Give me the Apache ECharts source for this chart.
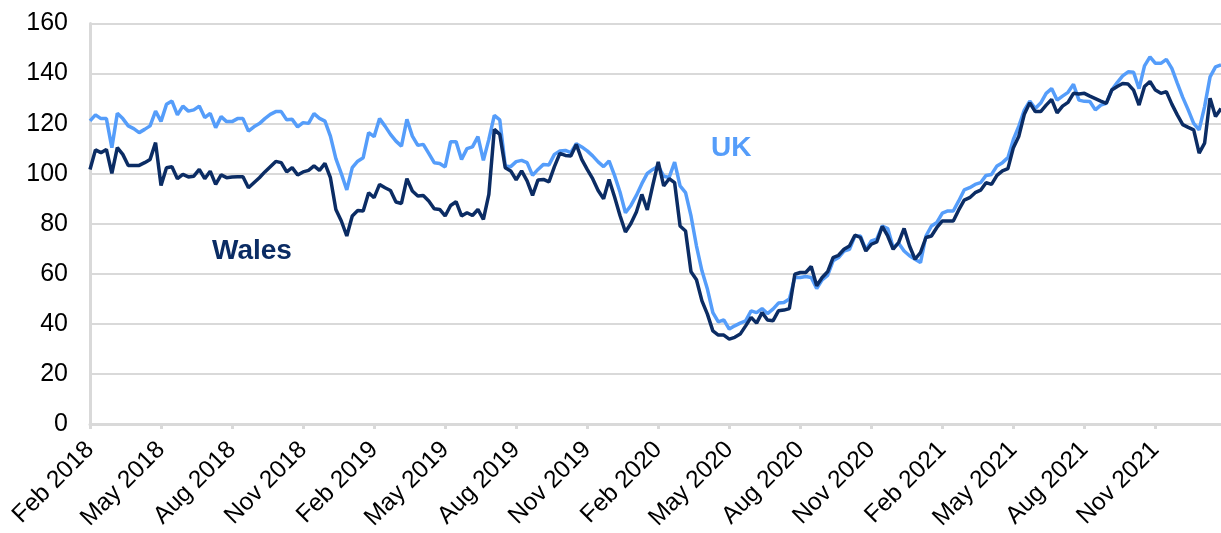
<!DOCTYPE html>
<html>
<head>
<meta charset="utf-8">
<script src="https://cdn.jsdelivr.net/npm/echarts@6/dist/echarts.min.js"></script>
<style>
  html, body { margin: 0; padding: 0; background: #fff; }
  #chart { width: 1221px; height: 533px; }
</style>
</head>
<body>
<div id="chart"></div>
<script>
// weekly index values, Feb 2018 onwards
const tickLabels = ['Feb 2018', 'May 2018', 'Aug 2018', 'Nov 2018', 'Feb 2019', 'May 2019', 'Aug 2019', 'Nov 2019',
  'Feb 2020', 'May 2020', 'Aug 2020', 'Nov 2020', 'Feb 2021', 'May 2021', 'Aug 2021', 'Nov 2021'];
const weeksPerTick = 13;

const ukValues = [
  121.1, 123.5, 122, 122, 110.4, 124.1, 122, 119.1, 118, 116.4, 117.7, 119.1, 125, 120.9, 127.7, 129,
  123.5, 127, 125, 125.5, 127, 122.4, 124.1, 118.4, 122.8, 120.8, 120.8, 122, 122, 117, 118.7, 120,
  122, 123.7, 124.8, 124.8, 121.5, 121.7, 118.7, 120.4, 120.1, 124, 122.1, 121, 115, 106, 100, 93.5,
  102.4, 105, 106.4, 116.4, 114.8, 122, 119, 115.7, 113, 111, 121.7, 115, 111.3, 111.7, 108.1, 104.4,
  104.1, 102.7, 112.8, 112.8, 105.7, 110, 110.7, 114.8, 105.3, 113.7, 123.3, 121.5, 103.1, 102.8, 104.8, 105.3,
  104.4, 99.3, 101.7, 103.7, 103.5, 107.7, 109.1, 109.3, 108.4, 112, 110.7, 109.1, 107.1, 104.7, 102.8, 105.1,
  99.3, 92.7, 84.4, 87.3, 91.3, 96, 100.1, 101.7, 103, 99, 98.5, 104.6, 95.1, 92.4, 83.1, 71.1,
  61.2, 53.9, 44.5, 40.8, 41.6, 37.9, 39.2, 40.3, 41.2, 45.2, 44.5, 46.1, 44.1, 45.9, 48.3, 48.5,
  49.9, 58.5, 58.5, 58.9, 58.5, 54.1, 57.6, 59.4, 65.2, 66.5, 69.1, 69.8, 75.1, 75.1, 69.5, 73.1,
  73.8, 79.1, 78.1, 70.5, 72.2, 69.1, 67.2, 65.8, 64.5, 75.1, 79.1, 80.5, 84.2, 85.1, 85.1, 89.1,
  93.5, 94.4, 95.7, 96.4, 99.3, 99.7, 103.1, 104.4, 106.4, 113.7, 119, 125.4, 129, 126, 128.2, 132.1,
  134, 129.4, 131, 132.5, 135.7, 129.4, 128.9, 128.8, 125.5, 127.4, 128.1, 133.4, 136.4, 139.1, 140.7, 140.5,
  134, 143.1, 146.7, 144.1, 144.1, 145.7, 142.1, 136.2, 130.5, 125.5, 120.1, 117.5, 126.8, 138.7, 142.7, 143.5
];

const walesValues = [
  101.7, 109.5, 108.4, 109.7, 100.1, 110.4, 107.7, 103.3, 103.3, 103.3, 104.4, 105.7, 112.4, 95.3, 102.4, 102.8,
  98, 99.7, 98.7, 99, 101.7, 98, 101, 95.7, 99.5, 98.4, 98.7, 98.8, 98.8, 94.4, 96.4, 98.4,
  100.7, 102.8, 104.9, 104.4, 100.7, 102.4, 99.5, 100.7, 101.3, 103.1, 101.3, 104.1, 98.4, 85.7, 81.1, 75.1,
  83.1, 85.3, 85.1, 92.4, 90.4, 95.7, 94.4, 93.3, 88.7, 88.1, 98, 93.1, 91.1, 91.3, 89.1, 86,
  85.7, 83.1, 87.3, 88.8, 83.1, 84.4, 83.3, 85.7, 81.7, 91.7, 117.7, 115.7, 102.4, 101.1, 97.5, 101.1,
  97.1, 91.3, 97.5, 97.7, 96.7, 102.8, 108.1, 107.3, 107.1, 111.7, 105.7, 101.7, 98, 93.3, 90, 97.7,
  90.8, 83.3, 76.7, 80.1, 84.7, 91.7, 85.5, 95.3, 104.7, 95.1, 98, 96.4, 79.1, 77.1, 60.8, 57.6,
  49.2, 43.9, 37.2, 35.5, 35.5, 33.9, 34.6, 35.9, 39.2, 42.6, 40.3, 44.5, 41.5, 41.2, 45.2, 45.5,
  46.1, 59.8, 60.5, 60.5, 62.9, 55.2, 58.5, 60.8, 66.5, 67.4, 69.8, 71.1, 75.4, 74.5, 69.1, 71.8,
  72.7, 78.9, 75.1, 69.8, 72.5, 78.1, 71.1, 65.8, 68.5, 74.5, 75.1, 78.5, 81.1, 81.1, 81.1, 85.5,
  89.4, 90.4, 92.4, 93.4, 96.4, 95.7, 99.3, 101.1, 102, 110.4, 115, 123.7, 128.3, 124.8, 124.8, 127.4,
  129.7, 124.3, 127, 128.5, 132.1, 131.8, 132.1, 131, 130, 129, 128.1, 133.4, 134.8, 136, 135.8, 133.4,
  127.4, 134.8, 136.8, 133.4, 132.1, 132.8, 127.8, 123.5, 119.6, 118.5, 117.5, 108.2, 112.2, 130.1, 122.8, 126
];

const weeks = ukValues.map((_, i) => i);

const ukColor = '#559dfa';
const walesColor = '#0b2c64';
const gridColor = '#d9d9d9';
const font = 'Liberation Sans, Arial, sans-serif';

const chart = echarts.init(document.getElementById('chart'));

const isTick = (idx) => idx % weeksPerTick === 0;

const option = {
  animation: false,
  grid: { left: 90, right: 0, top: 23.5, bottom: 107.5 },
  xAxis: {
    type: 'category',
    data: weeks,
    boundaryGap: false,
    axisLine: { lineStyle: { color: gridColor, width: 3 } },
    axisTick: { show: true, interval: isTick, length: 5, lineStyle: { color: gridColor, width: 3 } },
    axisLabel: {
      interval: isTick,
      rotate: 45,
      margin: 22,
      fontSize: 24.5,
      fontFamily: font,
      color: '#000',
      formatter: (v, idx) => tickLabels[idx / weeksPerTick] || ''
    },
    splitLine: { show: false }
  },
  yAxis: {
    type: 'value',
    min: 0,
    max: 160,
    interval: 20,
    axisLine: { show: true, lineStyle: { color: gridColor, width: 3 } },
    axisTick: { show: false },
    axisLabel: { margin: 22, fontSize: 25, fontFamily: font, color: '#000' },
    splitLine: { lineStyle: { color: gridColor, width: 2 } }
  },
  series: [
    {
      name: 'UK',
      type: 'line',
      data: ukValues,
      symbol: 'none',
      lineStyle: { color: ukColor, width: 3.5 },
      z: 2
    },
    {
      name: 'Wales',
      type: 'line',
      data: walesValues,
      symbol: 'none',
      lineStyle: { color: walesColor, width: 3.5 },
      z: 3
    }
  ],
  graphic: [
    {
      type: 'text', left: 711, top: 134,
      style: { text: 'UK', fill: ukColor, font: 'bold 28px ' + font }
    },
    {
      type: 'text', left: 212, top: 237,
      style: { text: 'Wales', fill: walesColor, font: 'bold 28px ' + font }
    }
  ]
};

chart.setOption(option);
window.addEventListener('resize', () => chart.resize());
</script>
</body>
</html>
